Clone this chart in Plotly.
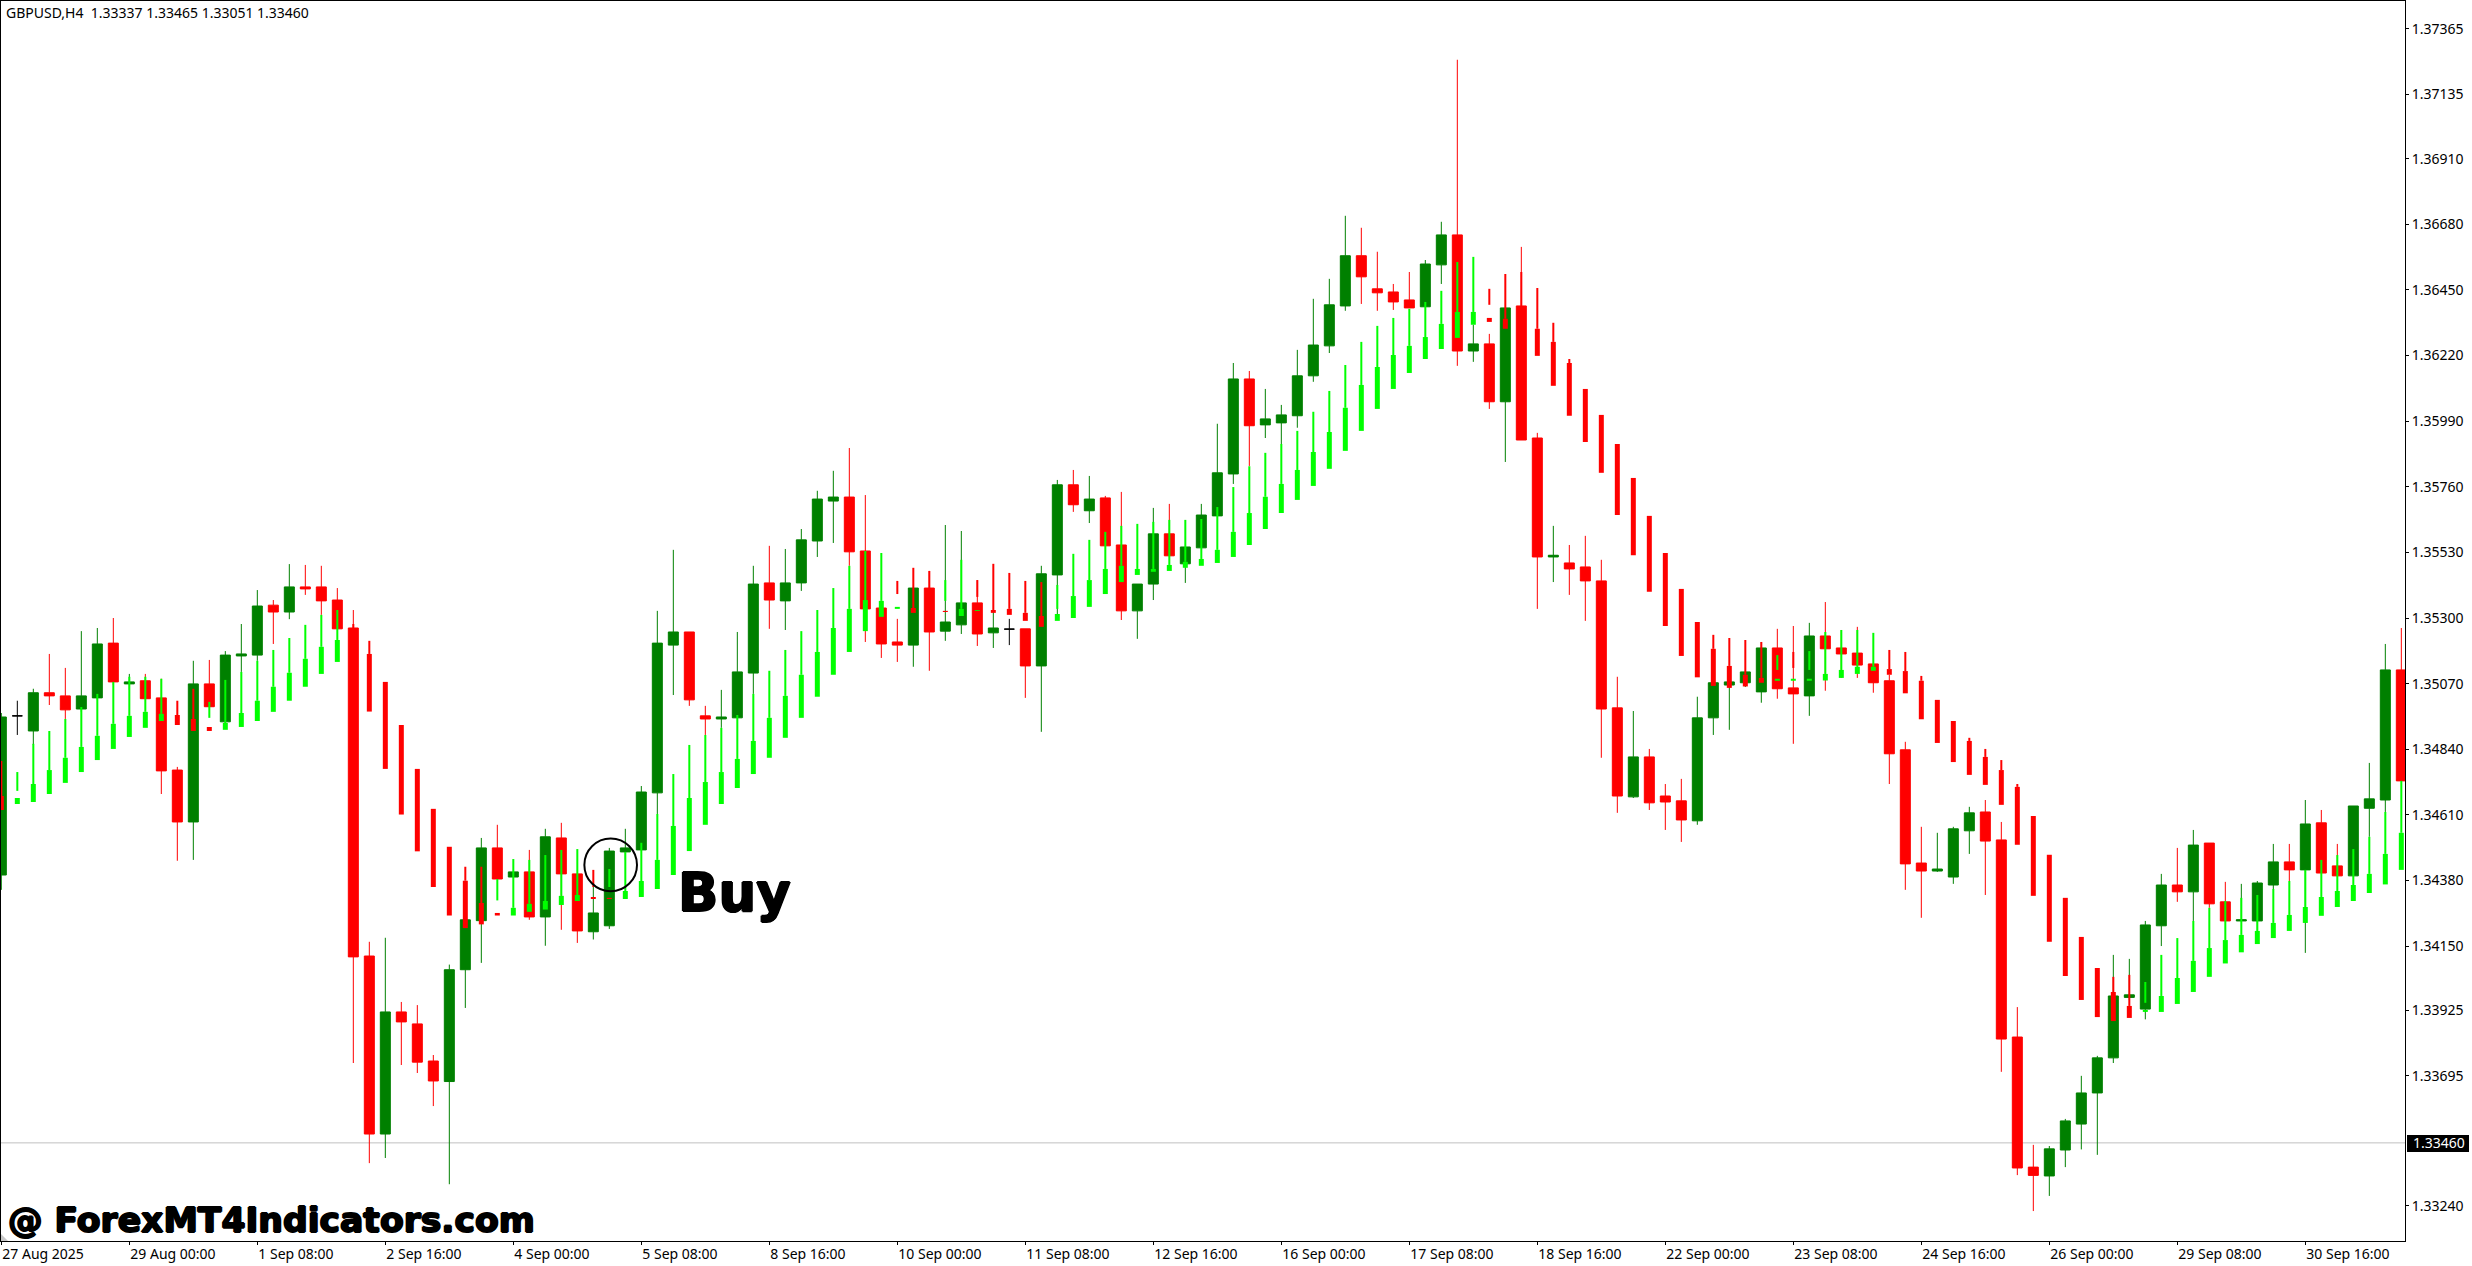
import plotly.graph_objects as go

tick_labels_x = ["27 Aug 2025","29 Aug 00:00","1 Sep 08:00","2 Sep 16:00","4 Sep 00:00","5 Sep 08:00","8 Sep 16:00",
                 "10 Sep 00:00","11 Sep 08:00","12 Sep 16:00","16 Sep 00:00","17 Sep 08:00","18 Sep 16:00",
                 "22 Sep 00:00","23 Sep 08:00","24 Sep 16:00","26 Sep 00:00","29 Sep 08:00","30 Sep 16:00"]
price_ticks = [1.37365,1.37135,1.36910,1.36680,1.36450,1.36220,1.35990,1.35760,1.35530,1.35300,1.35070,
               1.34840,1.34610,1.34380,1.34150,1.33925,1.33695,1.33240]
current_price = 1.33460

# values below are quoted in points above 1.00000
opens = [34399,34957,34904,35038,35027,34981,35020,35212,35069,35080,
35020,34767,34585,35069,34936,35167,35170,35345,35321,35409,
35409,35363,35265,34115,33491,33919,33877,33747,33675,34067,
34239,34494,34392,34410,34252,34529,34403,34200,34221,34480,
34487,34687,35205,35251,34957,34946,34950,35107,35423,35360,
35423,35570,35710,35724,35535,35335,35216,35205,35405,35254,
35276,35353,35248,35261,35262,35132,35451,35767,35676,35721,
35556,35325,35419,35595,35490,35546,35658,35805,36138,35977,
35984,36009,36149,36254,36394,36570,36454,36443,36415,36391,
36538,36643,36236,36261,36058,36394,35931,35514,35493,35479,
35430,34985,34673,34813,34676,34659,34589,34950,35065,35073,
35041,35195,35055,35027,35237,35195,35177,35139,35080,34838,
34441,34413,34392,34554,34620,34522,33831,33375,33344,33435,
33526,33635,33758,33970,33929,34221,34364,34340,34511,34305,
34238,34238,34364,34445,34417,34582,34431,34396,34633,34662,35118]
highs = [34967,35010,35052,35174,35125,35254,35265,35300,35104,35104,
35087,34778,35150,35153,35184,35279,35398,35363,35489,35486,
35483,35405,35328,34165,34179,33954,33943,33768,34085,34242,
34529,34575,34410,34487,34561,34582,34403,34357,34494,34561,
34711,35325,35539,35251,34992,35048,35251,35483,35553,35542,
35612,35746,35816,35896,35731,35335,35297,35405,35465,35626,
35605,35433,35328,35297,35262,35483,35784,35819,35798,35728,
35742,35419,35686,35700,35549,35700,35981,36194,36166,36103,
36047,36240,36419,36489,36710,36668,36584,36471,36513,36555,
36689,37257,36328,36296,36387,36601,35949,35623,35556,35588,
35504,35094,34974,34841,34718,34736,35024,35073,35076,35111,
35216,35262,35272,35283,35356,35258,35269,35139,35101,34866,
34568,34547,34568,34638,34662,34585,33936,33453,33449,33544,
33695,33765,34119,34105,34238,34403,34494,34557,34511,34375,
34368,34378,34508,34508,34662,34627,34508,34641,34792,35209,35265]
lows = [34347,34890,34855,34995,34946,34971,35013,35065,35048,35017,
34683,34449,34452,34989,34925,35111,35150,35209,35296,35381,
35311,35262,33740,33389,33407,33733,33705,33589,33315,33933,
34091,34385,34392,34242,34151,34207,34161,34173,34210,34452,
34487,34613,35030,34992,34890,34915,34950,35034,35262,35258,
35395,35514,35563,35483,35216,35160,35146,35129,35115,35220,
35244,35202,35195,35205,35020,34901,35314,35672,35633,35553,
35293,35227,35363,35518,35423,35546,35658,35770,35833,35931,
35910,35967,36128,36229,36377,36401,36377,36380,36387,36391,
36471,36184,36198,36033,35847,35924,35332,35426,35381,35290,
34810,34617,34669,34627,34557,34515,34575,34890,34908,35058,
35003,35017,34859,34957,35045,35090,35090,35038,34718,34347,
34249,34410,34368,34473,34329,33709,33347,33221,33274,33375,
33437,33418,33740,33961,33893,34150,34305,34238,34284,34238,
34235,34203,34350,34378,34126,34406,34396,34396,34533,34620,34729]
closes = [34953,34957,35038,35027,34978,35027,35209,35076,35076,35017,
34764,34585,35069,34989,35170,35174,35342,35321,35409,35402,
35360,35262,34112,33491,33919,33884,33743,33677,34067,34242,
34494,34385,34410,34252,34533,34403,34203,34266,34483,34494,
34690,35212,35251,35013,34946,34953,35111,35419,35363,35423,
35574,35717,35724,35532,35332,35209,35205,35405,35251,35286,
35353,35244,35265,35261,35132,35455,35767,35697,35717,35553,
35325,35419,35595,35518,35549,35661,35809,36138,35974,35998,
36012,36149,36257,36398,36570,36496,36440,36408,36387,36541,
36643,36236,36261,36058,36387,35924,35514,35520,35472,35430,
34981,34676,34813,34652,34655,34592,34950,35073,35076,35111,
35195,35052,35034,35237,35192,35174,35135,35073,34824,34438,
34413,34420,34561,34617,34518,33824,33372,33346,33439,33537,
33635,33758,33975,33979,34224,34364,34340,34504,34298,34238,
34242,34371,34445,34417,34578,34406,34396,34641,34666,35118,34729]

# indicator overlay: [bar, thin top, thick top, thick bottom]
lime_bars = [
[2,34859,34718,34655],[3,34904,34767,34683],[4,34946,34810,34722],[5,34988,34848,34760],[6,35034,34887,34802],
[7,35076,34929,34841],[8,35094,34957,34883],[9,35094,34971,34915],[10,35087,34964,34939],[14,35083,34932,34908],
[15,35111,34967,34918],[16,35150,35010,34939],[17,35188,35059,34971],[18,35230,35108,35010],[19,35276,35157,35059],
[20,35311,35199,35104],[21,35328,35223,35146],[32,34455,34284,34257],[33,34452,34298,34270],[34,34469,34308,34278],
[35,34487,34326,34294],[36,34490,34329,34308],[39,34480,34343,34315],[40,34512,34378,34322],[41,34613,34452,34350],
[42,34753,34571,34399],[43,34855,34669,34483],[44,34890,34725,34575],[45,34915,34760,34648],[46,34960,34806,34704],
[47,35034,34869,34753],[48,35115,34950,34810],[49,35188,35027,34880],[50,35254,35101,34950],[51,35328,35181,35024],
[52,35405,35265,35101],[53,35483,35332,35181],[54,35535,35363,35254],[55,35528,35360,35304],[60,35504,35332,35307],
[67,35525,35377,35300],[68,35574,35433,35339],[69,35602,35472,35384],[70,35623,35483,35426],[71,35630,35472,35451],
[72,35637,35472,35462],[73,35644,35486,35465],[74,35644,35497,35476],[75,35647,35507,35483],[76,35689,35539,35493],
[77,35759,35602,35514],[78,35832,35668,35556],[79,35879,35725,35612],[80,35910,35770,35668],[81,35956,35819,35714],
[82,36023,35882,35763],[83,36096,35952,35823],[84,36187,36037,35886],[85,36268,36117,35956],[86,36324,36180,36033],
[87,36352,36222,36103],[88,36384,36254,36159],[89,36408,36285,36208],[90,36447,36331,36243],[91,36548,36373,36282],
[92,36566,36373,36328],[114,35251,35104,35081],[115,35258,35118,35090],[116,35258,35129,35104],[117,35248,35129,35115],
[135,34119,33975,33919],[136,34178,34038,33947],[137,34238,34098,33989],[138,34284,34143,34042],[139,34308,34171,34089],
[140,34319,34189,34128],[141,34329,34203,34157],[142,34350,34231,34178],[143,34378,34259,34203],[144,34417,34287,34231],
[145,34452,34322,34256],[146,34469,34343,34287],[147,34490,34364,34308],[148,34533,34403,34336],[149,34620,34473,34366],
[150,34729,34547,34417]]
red_bars = [
[0,34799,34676,34627],[11,35010,34960,34925],[12,35052,34946,34904],[22,35279,35223,35223],[23,35220,35174,34972],
[24,35076,35076,34771],[25,34925,34925,34611],[26,34771,34771,34482],[27,34631,34631,34357],[28,34498,34498,34257],
[29,34428,34379,34213],[30,34428,34301,34226],[57,35476,35335,35318],[58,35465,35398,35398],[62,35490,35328,35318],
[63,35458,35332,35311],[64,35430,35318,35290],[65,35426,35307,35269],[94,36506,36349,36314],[95,36513,36394,36394],
[96,36457,36314,36219],[97,36335,36268,36114],[98,36208,36194,36009],[99,36103,36103,35917],[100,36012,36012,35809],
[101,35910,35910,35661],[102,35791,35791,35520],[103,35658,35658,35392],[104,35528,35528,35272],[105,35402,35402,35167],
[106,35286,35286,35092],[107,35241,35192,35062],[108,35230,35132,35055],[109,35223,35101,35060],[110,35216,35090,35073],
[118,35188,35121,35101],[119,35181,35114,35036],[120,35097,35080,34945],[121,35013,35013,34862],[122,34939,34939,34795],
[123,34880,34869,34750],[124,34841,34813,34715],[125,34802,34767,34645],[126,34718,34708,34505],[127,34606,34606,34326],
[128,34470,34470,34165],[129,34319,34319,34045],[130,34182,34182,33961],[131,34073,34073,33901],[132,34042,33989,33887],
[133,34049,33940,33898]]
# loose pieces: [bar, top, bottom]
lime_thin_extra = [[1,34760,34694],[13,35006,34950],[31,34385,34310],[38,34420,34357],[59,35433,35360],[66,35416,35332],
                   [111,35170,35118],[113,35184,35118],[134,34024,33951]]
lime_thick_extra = [[1,34669,34648],[56,35339,35332],[61,35328,35325],[66,35314,35290],[111,35087,35080],
                    [112,35087,35080],[113,35087,35080],[134,33926,33919]]
red_thin_extra = [[37,34417,34357],[56,35430,35384],[61,35433,35374],[93,36454,36398],[112,35181,35125]]
red_thick_extra = [[13,34918,34904],[31,34266,34257],[37,34322,34315],[38,34319,34315],[59,35325,35321],[93,36352,36338]]


def price(points):
    return 1 + points / 100000.0


def segments(pieces):
    xs, ys = [], []
    for bar, top, bottom in pieces:
        xs += [bar, bar, None]
        ys += [price(top), price(bottom), None]
    return xs, ys


bars = list(range(len(opens)))
plain = [i for i in bars if opens[i] != closes[i]]
doji = [i for i in bars if opens[i] == closes[i]]

fig = go.Figure()
fig.add_trace(go.Candlestick(
    x=plain, open=[price(opens[i]) for i in plain], high=[price(highs[i]) for i in plain],
    low=[price(lows[i]) for i in plain], close=[price(closes[i]) for i in plain],
    increasing=dict(line=dict(color="#008000", width=1), fillcolor="#008000"),
    decreasing=dict(line=dict(color="#FF0000", width=1), fillcolor="#FF0000"),
    whiskerwidth=0, hoverinfo="skip", showlegend=False))
fig.add_trace(go.Candlestick(
    x=doji, open=[price(opens[i]) for i in doji], high=[price(highs[i]) for i in doji],
    low=[price(lows[i]) for i in doji], close=[price(closes[i]) for i in doji],
    increasing=dict(line=dict(color="#000000", width=1), fillcolor="#000000"),
    decreasing=dict(line=dict(color="#000000", width=1), fillcolor="#000000"),
    whiskerwidth=0, hoverinfo="skip", showlegend=False))

for color, full, thin_extra, thick_extra in (
        ("#FF0000", red_bars, red_thin_extra, red_thick_extra),
        ("#00FF00", lime_bars, lime_thin_extra, lime_thick_extra)):
    thin = [[b, hi, top] for b, hi, top, bot in full] + thin_extra
    thick = [[b, top, bot] for b, hi, top, bot in full] + thick_extra
    for pieces, w in ((thin, 2), (thick, 5)):
        xs, ys = segments(pieces)
        fig.add_trace(go.Scatter(x=xs, y=ys, mode="lines", line=dict(color=color, width=w),
                                 hoverinfo="skip", showlegend=False, connectgaps=False))

W, H = 2472, 1266
L, T, R, B = 1, 1, 67, 25
PW, PH = W - L - R, H - T - B


def px(x):
    return (x - L) / PW


def py(y):
    return 1 - (y - T) / PH


font = "Noto Sans, Liberation Sans, sans-serif"
heavy = "1px 0 0 #000, -1px 0 0 #000, 0 1px 0 #000, 0 -1px 0 #000"
annotations = [
    dict(text="GBPUSD,H4\u00a0\u00a01.33337 1.33465 1.33051 1.33460", xref="paper", yref="paper",
         x=px(4), y=py(12), xanchor="left", yanchor="middle", showarrow=False,
         font=dict(family=font, size=14, color="#000000")),
    dict(text="<b>@ ForexMT4Indicators.com</b>", xref="paper", yref="paper", x=px(6), y=py(1220),
         xanchor="left", yanchor="middle", showarrow=False,
         font=dict(family="DejaVu Sans", size=34.6, color="#000000", shadow=heavy)),
    dict(text="<b>Buy</b>", xref="paper", yref="paper", x=px(676), y=py(892), xanchor="left",
         yanchor="middle", showarrow=False,
         font=dict(family="DejaVu Sans", size=53, color="#000000", shadow=heavy)),
    dict(text="1.33460", xref="paper", yref="y", x=px(2411), y=current_price, xanchor="left",
         yanchor="middle", showarrow=False, font=dict(family=font, size=14, color="#FFFFFF")),
]
shapes = [
    dict(type="line", xref="paper", yref="y", x0=0, x1=1, y0=current_price, y1=current_price,
         line=dict(color="#C0C0C0", width=1), layer="below"),
    dict(type="rect", xref="paper", yref="paper", x0=px(2407), x1=px(2469), y0=py(1152), y1=py(1135),
         fillcolor="#000000", line=dict(width=0), layer="below"),
    dict(type="circle", xref="x", yref="y", x0=36.44, x1=39.73, y0=1.34342, y1=1.34527,
         line=dict(color="#000000", width=2), layer="above"),
    dict(type="path", xref="paper", yref="paper", fillcolor="#C8C8C8", line=dict(width=0),
         path=f"M {px(1)} {py(1234)} L {px(8)} {py(1241)} L {px(1)} {py(1241)} Z"),
]

fig.update_layout(
    width=W, height=H, margin=dict(l=L, r=R, t=T, b=B, pad=0), paper_bgcolor="#FFFFFF", plot_bgcolor="#FFFFFF",
    boxmode="overlay", boxgap=0.375, boxgroupgap=0, showlegend=False, annotations=annotations, shapes=shapes,
    xaxis=dict(range=[-0.02, 150.23], rangeslider=dict(visible=False), showgrid=False, zeroline=False,
               tickmode="array", tickvals=[8 * k for k in range(len(tick_labels_x))], ticktext=tick_labels_x,
               ticks="outside", ticklen=3, tickwidth=1, tickcolor="#000000", ticklabelposition="outside right",
               tickangle=0, tickfont=dict(family=font, size=14, color="#000000"), showline=True,
               linecolor="#000000", linewidth=1, mirror=True),
    yaxis=dict(range=[1.33116, 1.37463], side="right", showgrid=False, zeroline=False, tickmode="array",
               tickvals=price_ticks, ticktext=[f"{p:.5f}" for p in price_ticks], ticks="outside", ticklen=3,
               tickwidth=1, tickcolor="#000000", tickfont=dict(family=font, size=14, color="#000000"),
               showline=True, linecolor="#000000", linewidth=1, mirror=True),
)

fig.write_html("out.html", config=dict(displayModeBar=False),
               post_script="document.body.style.margin='0';document.body.style.overflow='hidden';")
